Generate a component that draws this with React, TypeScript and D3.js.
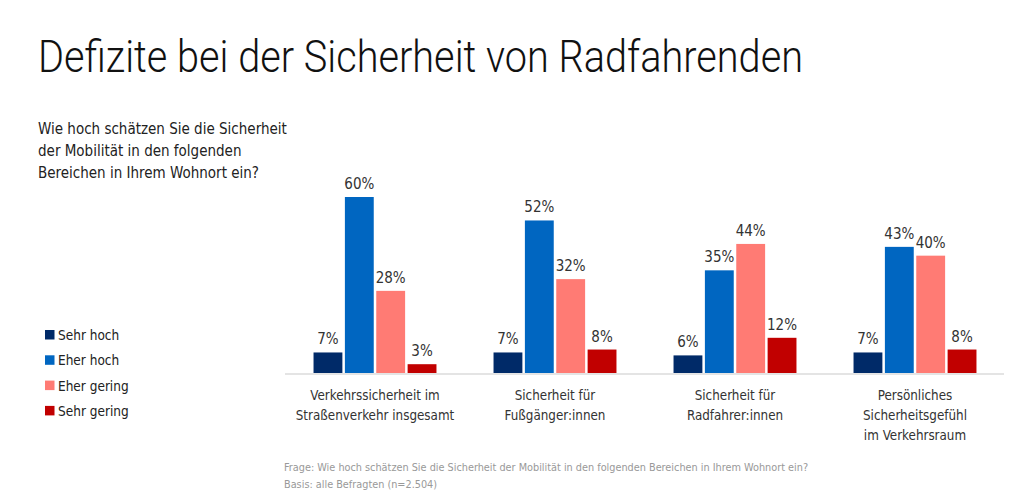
import React, { useEffect, useRef } from 'react'
import * as d3 from 'd3'

const categories = [
  ['Verkehrssicherheit im', 'Straßenverkehr insgesamt'],
  ['Sicherheit für', 'Fußgänger:innen'],
  ['Sicherheit für', 'Radfahrer:innen'],
  ['Persönliches', 'Sicherheitsgefühl', 'im Verkehrsraum'],
]
const seriesNames = ['Sehr hoch', 'Eher hoch', 'Eher gering', 'Sehr gering']
const sehrHoch = [7, 7, 6, 7]
const eherHoch = [60, 52, 35, 43]
const eherGering = [28, 32, 44, 40]
const sehrGering = [3, 8, 12, 8]
const seriesColors = ['#002a68', '#0066c1', '#ff7b74', '#c10000']

const title = 'Defizite bei der Sicherheit von Radfahrenden'
const question = ['Wie hoch schätzen Sie die Sicherheit', 'der Mobilität in den folgenden', 'Bereichen in Ihrem Wohnort ein?']
const footnote = [
  'Frage: Wie hoch schätzen Sie die Sicherheit der Mobilität in den folgenden Bereichen in Ihrem Wohnort ein?',
  'Basis: alle Befragten (n=2.504)',
]

const FONT = "'DejaVu Sans Condensed', 'Roboto', sans-serif"

export default function App() {
  const ref = useRef<SVGSVGElement>(null)

  useEffect(() => {
    if (!ref.current) return
    const svg = d3.select(ref.current)
    svg.selectAll('*').remove()

    const width = 1024
    const height = 494
    const baseline = 373

    svg.append('rect').attr('width', width).attr('height', height).attr('fill', '#fff')

    // Title
    svg.append('text')
      .attr('x', 38)
      .attr('y', 72)
      .attr('textLength', 765)
      .attr('lengthAdjust', 'spacingAndGlyphs')
      .style('font-family', "'Roboto', 'Lato', sans-serif")
      .style('font-weight', 300)
      .style('font-size', '44px')
      .style('fill', '#111')
      .text(title)

    // Question
    svg.append('g')
      .selectAll('text')
      .data(question)
      .join('text')
      .attr('x', 38)
      .attr('y', (_, i) => 134 + i * 22)
      .style('font-family', FONT)
      .style('font-size', '15px')
      .style('fill', '#222')
      .text(d => d)

    // Legend
    const legend = svg.append('g')
    seriesNames.forEach((name, i) => {
      const y = 335 + i * 25.3
      legend.append('rect')
        .attr('x', 45).attr('y', y - 5)
        .attr('width', 9.5).attr('height', 9.5)
        .attr('fill', seriesColors[i])
      legend.append('text')
        .attr('x', 58).attr('y', y + 5)
        .style('font-family', FONT)
        .style('font-size', '13.5px')
        .style('fill', '#222')
        .text(name)
    })

    const data = [sehrHoch, eherHoch, eherGering, sehrGering]
    const catIdx = categories.map((_, i) => i)

    const x0 = d3.scaleBand<number>()
      .domain(catIdx)
      .range([285, 1005])
      .paddingInner(0.317)
      .paddingOuter(0.1585)

    const x1 = d3.scaleBand<number>()
      .domain(seriesNames.map((_, i) => i))
      .range([0, x0.bandwidth()])
      .paddingInner(0.08)

    const y = d3.scaleLinear().domain([0, 60]).range([baseline, 197])

    // Axis line
    svg.append('line')
      .attr('x1', 285).attr('x2', 1004)
      .attr('y1', baseline + 1).attr('y2', baseline + 1)
      .attr('stroke', '#e4e4e4')
      .attr('stroke-width', 2)

    const groups = svg.append('g')
      .selectAll('g')
      .data(catIdx)
      .join('g')
      .attr('transform', d => `translate(${x0(d)},0)`)

    groups.selectAll('rect')
      .data(c => data.map((s, si) => ({ si, v: s[c] })))
      .join('rect')
      .attr('x', d => x1(d.si)!)
      .attr('y', d => y(d.v))
      .attr('width', x1.bandwidth())
      .attr('height', d => baseline - y(d.v))
      .attr('fill', d => seriesColors[d.si])

    groups.selectAll('text.val')
      .data(c => data.map((s, si) => ({ si, v: s[c] })))
      .join('text')
      .attr('class', 'val')
      .attr('x', d => x1(d.si)! + x1.bandwidth() / 2)
      .attr('y', d => y(d.v) - 8)
      .attr('text-anchor', 'middle')
      .style('font-family', FONT)
      .style('font-size', '15px')
      .style('fill', '#333')
      .text(d => `${d.v}%`)

    // Category labels
    groups.each(function (c) {
      d3.select(this)
        .selectAll('text.cat')
        .data(categories[c])
        .join('text')
        .attr('class', 'cat')
        .attr('x', x0.bandwidth() / 2)
        .attr('y', (_, i) => 400 + i * 20)
        .attr('text-anchor', 'middle')
        .style('font-family', FONT)
        .style('font-size', '13.3px')
        .style('fill', '#333')
        .text(d => d)
    })

    // Footnote
    svg.append('g')
      .selectAll('text')
      .data(footnote)
      .join('text')
      .attr('x', 284)
      .attr('y', (_, i) => 471 + i * 17)
      .style('font-family', FONT)
      .style('font-size', '10.8px')
      .style('fill', '#999')
      .text(d => d)
  }, [])

  return (
    <svg
      ref={ref}
      width={1024}
      height={494}
      style={{ position: 'absolute', left: 0, top: 0, display: 'block' }}
    />
  )
}
